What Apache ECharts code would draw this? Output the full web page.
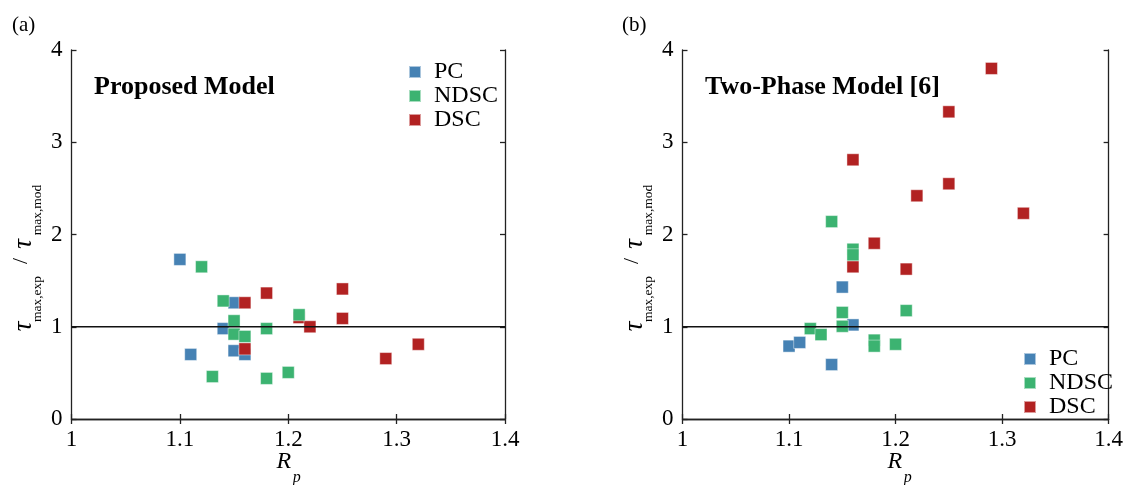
<!DOCTYPE html>
<html>
<head>
<meta charset="utf-8">
<script src="https://cdn.jsdelivr.net/npm/echarts@6/dist/echarts.min.js"></script>
<style>html,body{margin:0;padding:0;background:#fff}#c{width:1126px;height:485px}</style>
</head>
<body>
<div id="c"></div>
<script>
// ---- data (R_p, tau_exp / tau_mod) ----
const seriesNames = ['PC', 'NDSC', 'DSC'];
const xTickLabels = ['1', '1.1', '1.2', '1.3', '1.4'];
const yTickLabels = ['0', '1', '2', '3', '4'];
const refValue = 1;

// Panel (a): Proposed Model
const pcProposed = [[1.10, 1.73], [1.15, 1.26], [1.14, 0.98], [1.11, 0.70], [1.15, 0.74], [1.16, 0.70]];
const ndscProposed = [[1.12, 1.65], [1.14, 1.28], [1.15, 1.065], [1.15, 0.92], [1.16, 0.895], [1.18, 0.98], [1.21, 1.13], [1.13, 0.46], [1.18, 0.44], [1.20, 0.505]];
const dscProposed = [[1.16, 1.26], [1.18, 1.365], [1.16, 0.76], [1.21, 1.10], [1.22, 1.0], [1.25, 1.41], [1.25, 1.09], [1.29, 0.655], [1.32, 0.81]];

// Panel (b): Two-Phase Model [6]
const pcTwoPhase = [[1.10, 0.79], [1.11, 0.83], [1.14, 0.59], [1.15, 1.43], [1.16, 1.02]];
const ndscTwoPhase = [[1.14, 2.14], [1.16, 1.84], [1.16, 1.78], [1.15, 1.155], [1.15, 1.005], [1.12, 0.98], [1.13, 0.915], [1.18, 0.855], [1.18, 0.79], [1.20, 0.81], [1.21, 1.175]];
const dscTwoPhase = [[1.29, 3.80], [1.25, 3.33], [1.16, 2.81], [1.25, 2.55], [1.22, 2.42], [1.32, 2.23], [1.18, 1.905], [1.16, 1.65], [1.21, 1.625]];

const panelTitles = ['Proposed Model', 'Two-Phase Model [6]'];
const panelTags = ['(a)', '(b)'];

// ---- styling ----
const FONT = 'Liberation Serif';
const colors = { PC: '#4682B4', NDSC: '#3CB371', DSC: '#B22222' };
const gridLeft = [71.5, 682.5];
const gridTop = 50, gridW = 433.5, gridH = 369;

const chart = echarts.init(document.getElementById('c'), null, { renderer: 'canvas' });

const axisLine = { show: true, lineStyle: { color: '#222', width: 1.3 } };
const xLabelFmt = v => { const i = Math.round((v - 1) / 0.1); return xTickLabels[i] !== undefined ? xTickLabels[i] : ''; };
const yLabelFmt = v => { const i = Math.round(v); return yTickLabels[i] !== undefined ? yTickLabels[i] : ''; };

const grids = [], xAxes = [], yAxes = [], series = [], legends = [], graphics = [];
const panelData = [
  { PC: pcProposed, NDSC: ndscProposed, DSC: dscProposed },
  { PC: pcTwoPhase, NDSC: ndscTwoPhase, DSC: dscTwoPhase }
];

[0, 1].forEach(p => {
  grids.push({ left: gridLeft[p], top: gridTop, width: gridW, height: gridH, containLabel: false });
  ['bottom', 'top'].forEach(pos => {
    xAxes.push({
      type: 'value', gridIndex: p, position: pos, min: 1, max: 1.4, interval: 0.1,
      axisLine: axisLine,
      axisTick: { show: true, inside: true, length: 5, lineStyle: { color: '#222', width: 1.3 } },
      axisLabel: { show: pos === 'bottom', formatter: xLabelFmt, fontFamily: FONT, fontSize: 23, color: '#000', margin: 9 },
      splitLine: { show: false }
    });
  });
  ['left', 'right'].forEach(pos => {
    yAxes.push({
      type: 'value', gridIndex: p, position: pos, min: 0, max: 4, interval: 1,
      axisLine: axisLine,
      axisTick: { show: true, inside: true, length: 5, lineStyle: { color: '#222', width: 1.3 } },
      axisLabel: { show: pos === 'left', formatter: yLabelFmt, fontFamily: FONT, fontSize: 23, color: '#000', margin: 9 },
      splitLine: { show: false }
    });
  });
  // draw order: PC, DSC, NDSC (NDSC on top)
  ['PC', 'DSC', 'NDSC'].forEach(name => {
    series.push({
      name: name, type: 'scatter', xAxisIndex: p * 2, yAxisIndex: p * 2,
      symbol: 'rect', symbolSize: 12,
      itemStyle: { color: colors[name], borderColor: 'rgba(255,255,255,0.55)', borderWidth: 0.8, opacity: 1 },
      emphasis: { disabled: true },
      data: panelData[p][name], z: 3
    });
  });
  series.push({
    type: 'line', xAxisIndex: p * 2, yAxisIndex: p * 2, symbol: 'none', silent: true,
    lineStyle: { color: '#111', width: 1.3 }, z: 6,
    data: [[1, refValue], [1.4, refValue]]
  });

  legends.push({
    data: seriesNames, orient: 'vertical', icon: 'rect',
    left: p === 0 ? 403 : 1018, top: p === 0 ? 55 : 342,
    itemWidth: 12, itemHeight: 12, itemGap: 0, selectedMode: false,
    textStyle: { fontFamily: FONT, fontSize: 24, lineHeight: 23.5, color: '#000', padding: [0, 0, 0, 8] }
  });

  const off = p === 0 ? 0 : 611;
  graphics.push(
    { type: 'text', x: (p === 0 ? 12 : 622), y: 25, style: { text: panelTags[p], font: '21px "' + FONT + '"', fill: '#000', textAlign: 'left', textVerticalAlign: 'middle' } },
    { type: 'text', x: (p === 0 ? 94 : 705), y: 87, style: { text: panelTitles[p], font: 'bold 26px "' + FONT + '"', fill: '#000', textAlign: 'left', textVerticalAlign: 'middle' } },
    // y-axis title: tau_max,exp / tau_max,mod (rotated)
    { type: 'text', x: 24 + off, y: 326.5, rotation: Math.PI / 2, style: { text: 'τ', font: 'italic 27px "' + FONT + '"', fill: '#000', textAlign: 'center', textVerticalAlign: 'middle' } },
    { type: 'text', x: 37 + off, y: 299, rotation: Math.PI / 2, style: { text: 'max,exp', font: '13.5px "' + FONT + '"', fill: '#000', textAlign: 'center', textVerticalAlign: 'middle' } },
    { type: 'text', x: 21 + off, y: 261, rotation: Math.PI / 2, style: { text: '/', font: '22px "' + FONT + '"', fill: '#000', textAlign: 'center', textVerticalAlign: 'middle' } },
    { type: 'text', x: 24 + off, y: 244, rotation: Math.PI / 2, style: { text: 'τ', font: 'italic 27px "' + FONT + '"', fill: '#000', textAlign: 'center', textVerticalAlign: 'middle' } },
    { type: 'text', x: 37 + off, y: 210, rotation: Math.PI / 2, style: { text: 'max,mod', font: '13.5px "' + FONT + '"', fill: '#000', textAlign: 'center', textVerticalAlign: 'middle' } },
    // x-axis title: R_p
    { type: 'text', x: gridLeft[p] + gridW / 2 - 4.3, y: 462, style: { text: 'R', font: 'italic 24px "' + FONT + '"', fill: '#000', textAlign: 'center', textVerticalAlign: 'middle' } },
    { type: 'text', x: gridLeft[p] + gridW / 2 + 8.5, y: 478, style: { text: 'p', font: 'italic 16px "' + FONT + '"', fill: '#000', textAlign: 'center', textVerticalAlign: 'middle' } }
  );
});

chart.setOption({
  animation: false,
  backgroundColor: '#fff',
  grid: grids, xAxis: xAxes, yAxis: yAxes, series: series, legend: legends,
  graphic: { elements: graphics }
});
</script>
</body>
</html>
